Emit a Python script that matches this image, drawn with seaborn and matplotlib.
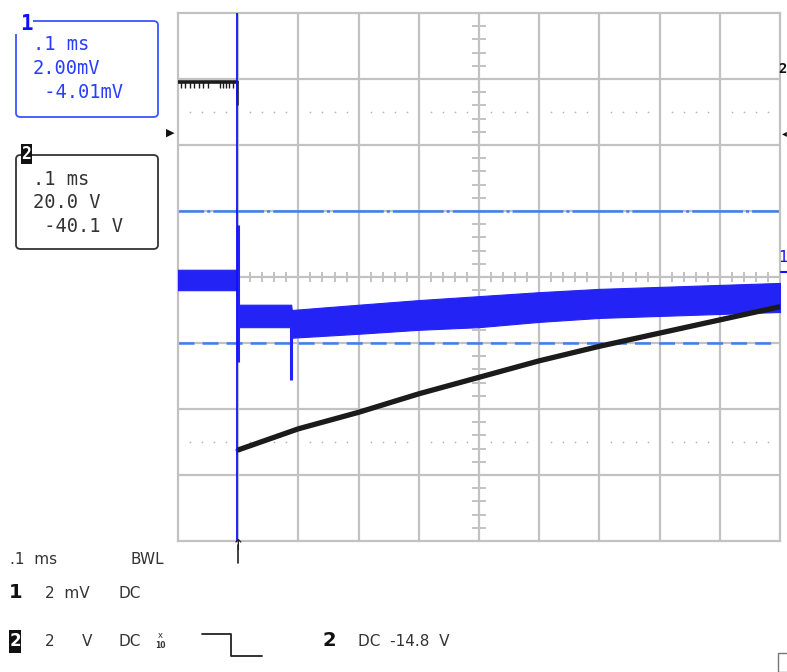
import numpy as np
import pandas as pd
import matplotlib
matplotlib.use('Agg')
import matplotlib.pyplot as plt
from matplotlib.patches import FancyBboxPatch, Rectangle
from matplotlib.lines import Line2D
import seaborn as sns

# screen units are divisions: x 0..10, y -4..4 (centre = 0)
# channel 2 (black), before trigger
ch2_pre_x = [0.0, 0.98]
ch2_pre_y = [2.95, 2.95]
ch2_glitch_x = [0.05, 0.12, 0.2, 0.27, 0.35, 0.42, 0.5, 0.7, 0.75, 0.8, 0.85, 0.92]

# channel 2 after trigger
ch2_x = [1.0, 2.0, 3.0, 4.0, 5.0, 6.0, 7.0, 8.0, 9.0, 10.0]
ch2_y = [-2.62, -2.30, -2.05, -1.77, -1.52, -1.27, -1.05, -0.85, -0.65, -0.45]

# channel 1 (blue) noise band envelope
ch1_x = [0.0, 0.99, 1.01, 1.88, 1.89, 3.0, 4.0, 5.0, 6.0, 7.0, 8.0, 9.0, 10.0]
ch1_hi = [0.11, 0.11, -0.42, -0.42, -0.50, -0.42, -0.35, -0.29, -0.23, -0.18, -0.15, -0.12, -0.09]
ch1_lo = [-0.20, -0.20, -0.76, -0.76, -0.92, -0.86, -0.80, -0.76, -0.68, -0.62, -0.59, -0.56, -0.53]
ch1_spike_x = [1.0, 1.885]
ch1_spike_top = [0.79, -0.76]
ch1_spike_bot = [-1.29, -1.56]

cursor_x = 0.98
level_lines = [1.0, -1.0]

box1_lines = ['.1 ms', '2.00mV', ' -4.01mV']
box2_lines = ['.1 ms', '20.0 V', ' -40.1 V']

W, H = 787, 672
def fx(px):
    return px / W
def fy(py):
    return 1 - py / H

sns.set_style('white')
plt.rcParams['lines.scale_dashes'] = False
mono = 'DejaVu Sans Mono'

fig = plt.figure(figsize=(W / 100, H / 100), dpi=100)
ax = fig.add_axes([fx(178), fy(541), 602 / W, 528 / H])
ax.set_xlim(0, 10)
ax.set_ylim(-4, 4)
ax.set_xticks([])
ax.set_yticks([])
for s in ax.spines.values():
    s.set_color('#c2c2c2')
    s.set_linewidth(1.6)

grid_c = '#c2c2c2'
for i in range(1, 10):
    ax.axvline(i, color=grid_c, lw=1.6, zorder=0)
for j in range(-3, 4):
    ax.axhline(j, color=grid_c, lw=1.6, zorder=0)

# minor ticks on the centre lines
minor = [k / 5 for k in range(1, 50) if k % 5 != 0]
ax.vlines(minor, -0.07, 0.07, color=grid_c, lw=1.4, zorder=0)
minor_y = [k / 5 - 4 for k in range(1, 40) if k % 5 != 0]
ax.hlines(minor_y, 4.88, 5.12, color=grid_c, lw=1.4, zorder=0)

# dotted rows
dot_df = pd.DataFrame({'x': minor * 2, 'y': [2.5] * len(minor) + [-2.5] * len(minor)})
ax.scatter(dot_df['x'], dot_df['y'], s=1.5, color='#b5b5b5', zorder=0, linewidths=0)

# level lines
ax.axhline(level_lines[0], color='#3d7ff2', lw=1.8, ls=(18, (36.5, 2.2, 2.2, 2.2)),
           zorder=1)
ax.axhline(level_lines[1], color='#3d7ff2', lw=1.8, ls=(0, (11.5, 5.8)), zorder=1)

# channel 1 band
ax.fill_between(ch1_x, ch1_lo, ch1_hi, color='#2323f5', lw=0.8, edgecolor='#2323f5',
                zorder=3)
ax.vlines(ch1_spike_x, ch1_spike_bot, ch1_spike_top, color='#2323f5', lw=2.2, zorder=3)

# channel 2 trace
sns.lineplot(x=ch2_pre_x, y=ch2_pre_y, color='#1b1b1b', lw=2.6, ax=ax, zorder=4)
ax.vlines(ch2_glitch_x, 2.86, 2.95, color='#1b1b1b', lw=1.0, zorder=4)
ax.vlines([0.98], 2.6, 2.97, color='#1b1b1b', lw=1.8, zorder=4)
sns.lineplot(x=ch2_x, y=ch2_y, color='#1b1b1b', lw=3.8, ax=ax, zorder=4)

# cursor
ax.axvline(cursor_x, color='#1010ff', lw=1.3, zorder=5)

# left / right markers
fig.text(fx(166), fy(133), '\u25B6', fontsize=8, color='#111', va='center', ha='left')
fig.text(fx(787), fy(133), '\u25C2', fontsize=7, color='#111', va='center', ha='right')
fig.text(fx(787), fy(69), '2', fontsize=10, color='#111', va='center', ha='right',
         family=mono, fontweight='bold')
fig.text(fx(787), fy(258), '1', fontsize=11, color='#1010ff', va='center', ha='right',
         family=mono)
fig.add_artist(Line2D([fx(781), fx(787)], [fy(272), fy(272)], color='#1010ff', lw=1.5))

# readout boxes
def box(y0, y1, col):
    p = FancyBboxPatch((fx(16), fy(y1)), fx(158) - fx(16), fy(y0) - fy(y1),
                       boxstyle='round,pad=0,rounding_size=0.006',
                       transform=fig.transFigure, fill=False, edgecolor=col, lw=1.3)
    fig.add_artist(p)

box(21, 117, '#3a55ff')
fig.add_artist(Rectangle((fx(15), fy(34)), fx(18), 16 / H, transform=fig.transFigure,
                         facecolor='white', edgecolor='none'))
fig.text(fx(20), fy(24), '1', fontsize=15, color='#1010ff', va='center', ha='left',
         family=mono, fontweight='bold')
for k, t in enumerate(box1_lines):
    fig.text(fx(33), fy(45 + k * 24), t, fontsize=13.5, color='#2a3cff', va='center',
             ha='left', family=mono)

box(155, 249, '#333333')
fig.add_artist(Rectangle((fx(21), fy(164)), fx(11), 20 / H, transform=fig.transFigure,
                         facecolor='#111', edgecolor='none'))
fig.text(fx(26.5), fy(154), '2', fontsize=12, color='white', va='center', ha='center',
         family=mono, fontweight='bold')
for k, t in enumerate(box2_lines):
    fig.text(fx(33), fy(179 + k * 24), t, fontsize=13.5, color='#333', va='center',
             ha='left', family=mono)

# trigger arrow under the grid
fig.add_artist(Line2D([fx(238), fx(238)], [fy(563), fy(545)], color='#222', lw=1.2))
fig.text(fx(238), fy(546), '\u2191', fontsize=11, color='#222', va='center', ha='center')

# bottom status lines
tc = '#333'
fig.text(fx(10), fy(560), '.1  ms', fontsize=11, color=tc, va='center')
fig.text(fx(130), fy(560), 'BWL', fontsize=11, color=tc, va='center')
fig.text(fx(9), fy(593), '1', fontsize=14, color='#111', va='center', fontweight='bold')
fig.text(fx(45), fy(593), '2  mV', fontsize=11, color=tc, va='center')
fig.text(fx(118), fy(593), 'DC', fontsize=11, color=tc, va='center')

fig.add_artist(Rectangle((fx(9), fy(653)), fx(12), 23 / H, transform=fig.transFigure,
                         facecolor='#111', edgecolor='none'))
fig.text(fx(15), fy(641), '2', fontsize=12, color='white', va='center', ha='center',
         fontweight='bold')
fig.text(fx(45), fy(641), '2', fontsize=11, color=tc, va='center')
fig.text(fx(82), fy(641), 'V', fontsize=11, color=tc, va='center')
fig.text(fx(118), fy(641), 'DC', fontsize=11, color=tc, va='center')
fig.text(fx(160), fy(636), 'x', fontsize=6, color=tc, va='center', ha='center')
fig.text(fx(160), fy(646), '10', fontsize=5.5, color=tc, va='center', ha='center',
         fontweight='bold')
fig.add_artist(Line2D([fx(202), fx(231), fx(231), fx(262)],
                      [fy(634), fy(634), fy(656), fy(656)], color='#222', lw=1.3))
fig.text(fx(322), fy(641), '2', fontsize=14, color='#111', va='center', fontweight='bold')
fig.text(fx(358), fy(641), 'DC  -14.8  V', fontsize=11, color=tc, va='center')
fig.add_artist(Rectangle((fx(778), fy(672)), fx(12), 19 / H, transform=fig.transFigure,
                         facecolor='none', edgecolor='#777', lw=1))

fig.savefig('out.png', dpi=100)
